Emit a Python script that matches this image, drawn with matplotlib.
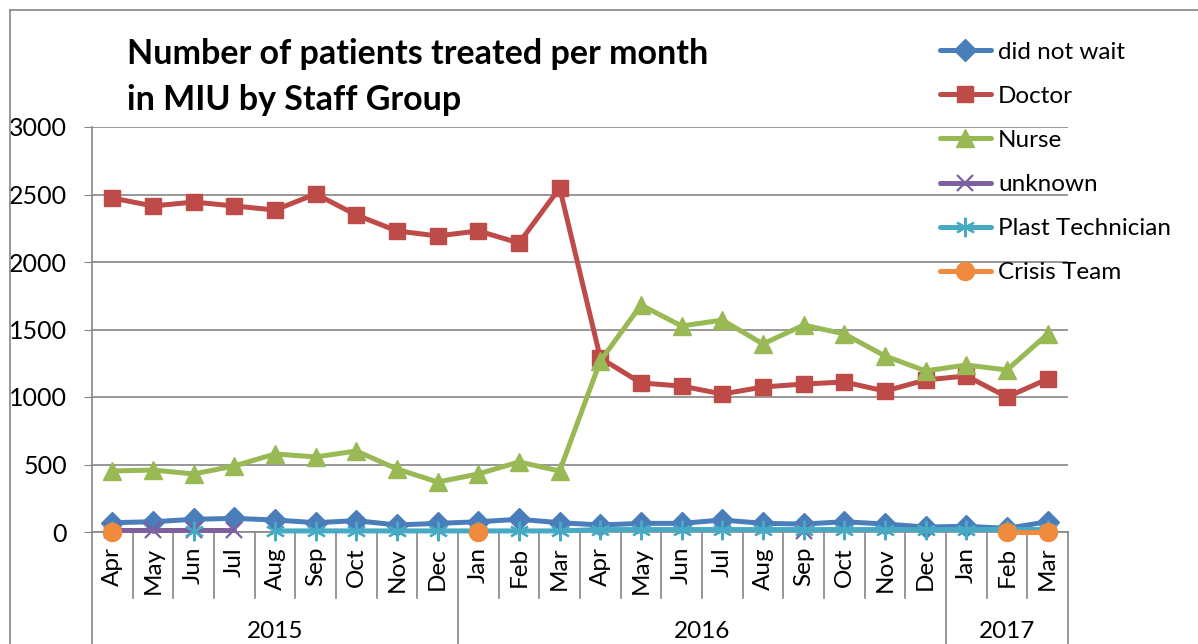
import numpy as np
import matplotlib
matplotlib.use("Agg")
import matplotlib.pyplot as plt
from matplotlib.lines import Line2D

plt.rcParams['font.family'] = ['Lato', 'DejaVu Sans']

months = ["Apr", "May", "Jun", "Jul", "Aug", "Sep", "Oct", "Nov", "Dec", "Jan", "Feb", "Mar",
          "Apr", "May", "Jun", "Jul", "Aug", "Sep", "Oct", "Nov", "Dec", "Jan", "Feb", "Mar"]
years = ["2015", "2016", "2017"]
year_spans = [(0, 8), (9, 20), (21, 23)]
nan = np.nan

did_not_wait = [69, 76, 94, 101, 89, 69, 84, 52, 64, 76, 94, 69,
                52, 64, 64, 89, 64, 59, 76, 59, 37, 42, 27, 76]
doctor = [2474, 2415, 2444, 2415, 2385, 2504, 2348, 2230, 2193, 2230, 2141, 2548,
          1289, 1104, 1081, 1022, 1074, 1096, 1111, 1044, 1126, 1156, 1000, 1133]
nurse = [452, 459, 430, 489, 578, 556, 600, 467, 370, 430, 519, 452,
         1267, 1681, 1526, 1570, 1393, 1533, 1467, 1304, 1193, 1237, 1200, 1467]
unknown = [18, 18, 18, 18, nan, nan, nan, nan, nan, nan, nan, nan,
           nan, nan, nan, nan, nan, 5, nan, nan, nan, nan, nan, nan]
plast = [8, nan, 8, nan, 8, 8, 8, 8, 8, 8, 8, 8,
         18, 18, 18, 18, 18, 18, 18, 18, 18, 18, 18, 18]
crisis = [0, nan, nan, nan, nan, nan, nan, nan, nan, 0, nan, nan,
          nan, nan, nan, nan, nan, nan, nan, nan, nan, nan, 0, 0]

series = [
    ("did not wait", did_not_wait, "#4A7EBB", "D", 11),
    ("Doctor", doctor, "#BE4B48", "s", 12),
    ("Nurse", nurse, "#98B954", "^", 13),
    ("unknown", unknown, "#7D60A0", "x", 12),
    ("Plast Technician", plast, "#46AAC5", (6, 2, 0), 14),
    ("Crisis Team", crisis, "#F08A3C", "o", 13),
]

W, H = 1198, 644
fig = plt.figure(figsize=(W / 100, H / 100), dpi=100)
L, R, B, T = 92, 1068, 532, 127
ax = fig.add_axes([L / W, 1 - B / H, (R - L) / W, (B - T) / H])

x = np.arange(len(months))
handles = []
for name, vals, col, mk, ms in series:
    mew = 1.6 if mk in ("x",) or isinstance(mk, tuple) else 1
    h, = ax.plot(x, vals, color=col, lw=3.6, marker=mk, markersize=ms,
                 markerfacecolor=col, markeredgecolor=col, markeredgewidth=mew,
                 solid_capstyle='round', clip_on=False, zorder=3)
    handles.append(h)

ax.set_xlim(-0.5, len(months) - 0.5)
ax.set_ylim(0, 3000)
ax.set_yticks(np.arange(0, 3001, 500))
ax.yaxis.grid(True, color="#868686", lw=1.2)
ax.set_axisbelow(True)
for s in ("top", "right"):
    ax.spines[s].set_visible(False)
ax.spines["left"].set_color("#868686")
ax.spines["bottom"].set_color("#868686")
ax.spines["left"].set_linewidth(1.2)
ax.spines["bottom"].set_linewidth(1.2)
ax.tick_params(axis='y', length=6, color="#868686", labelsize=18, pad=12)
ax.set_xticks(x)
ax.set_xticklabels([])
ax.tick_params(axis='x', length=0)

ah = B - T
trans = ax.get_xaxis_transform()
for i, m in enumerate(months):
    ax.text(i, -15 / ah, m, rotation=90, ha='center', va='top', fontsize=17.5,
            transform=trans)
long_bounds = {-0.5} | {e + 0.5 for _, e in year_spans}
for k in range(len(months) + 1):
    xb = k - 0.5
    y1 = -(644 - B) / ah if xb in long_bounds else -66 / ah
    ax.add_line(Line2D([xb, xb], [0, y1], transform=trans, color="#868686",
                       lw=1.2, clip_on=False))
for yname, (s, e) in zip(years, year_spans):
    ax.text((s + e) / 2, -(632 - B) / ah, yname, ha='center', va='center',
            fontsize=17.5, transform=trans)

fig.text(127 / W, 1 - 77 / H, "Number of patients treated per month\nin MIU by Staff Group",
         fontsize=24.5, fontweight='bold', ha='left', va='center', linespacing=1.5)

fig.legend(handles, [s[0] for s in series], loc='upper left',
           bbox_to_anchor=(930 / W, 1 - 32 / H), frameon=False, fontsize=17.5,
           handlelength=2.1, handletextpad=0.3, labelspacing=0.95,
           borderaxespad=0)

fig.add_artist(Line2D([10 / W, 10 / W], [0, 1 - 10 / H], transform=fig.transFigure,
                      color="#868686", lw=1.2))
fig.add_artist(Line2D([10 / W, 1], [1 - 10 / H, 1 - 10 / H], transform=fig.transFigure,
                      color="#868686", lw=1.2))

fig.savefig("out.png", dpi=100)
